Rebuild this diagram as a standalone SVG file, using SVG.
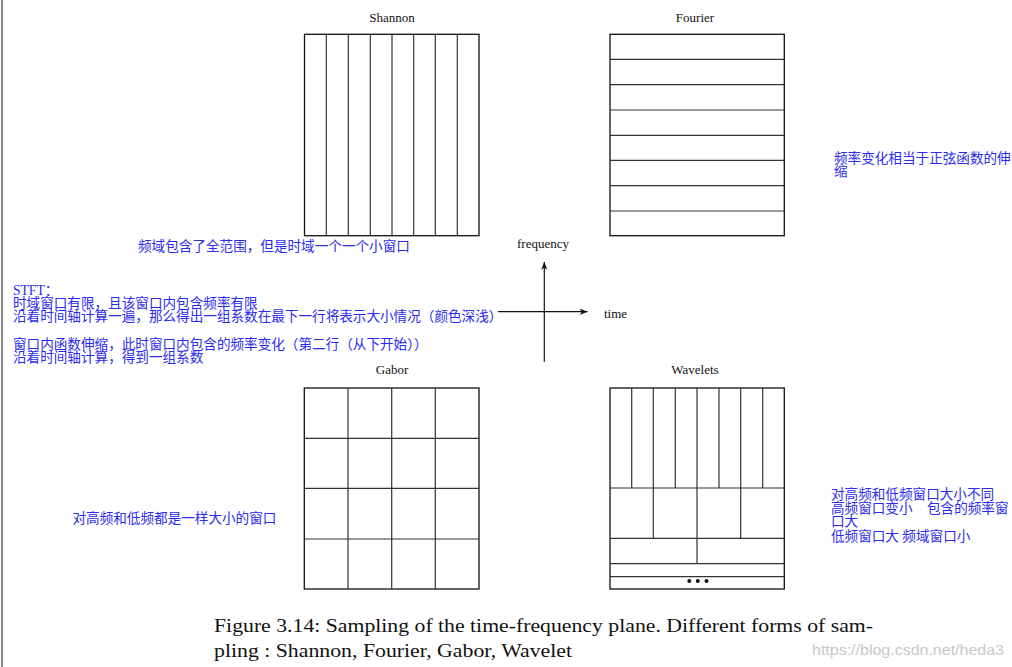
<svg xmlns="http://www.w3.org/2000/svg" width="1012" height="667" viewBox="0 0 1012 667">
<style>
.box{fill:none;stroke:#111;stroke-width:1.3}
.ln{stroke:#333;stroke-width:1.2}
.title{font-family:"Liberation Serif",serif;font-size:13px;fill:#111;text-anchor:middle}
.lab{font-family:"Liberation Serif",serif;font-size:13px;fill:#111}
.note{font-family:"Liberation Serif","Noto Sans CJK SC",serif;font-size:13.6px;fill:#2b2bef}
.cap{font-family:"Liberation Serif",serif;font-size:19px;fill:#111}
.wm{font-family:"Liberation Sans",sans-serif;font-size:14px;fill:#c8c8c8}
</style>
<defs>
<marker id="ah" viewBox="0 0 10 10" refX="10" refY="5" markerWidth="8" markerHeight="8" markerUnits="userSpaceOnUse" orient="auto">
<path d="M0,1 L10,5 L0,9 L3,5 Z" fill="#111"/>
</marker>
</defs>
<rect width="1012" height="667" fill="#fff"/>
<line x1="2" y1="0" x2="2" y2="667" stroke="#888" stroke-width="2"/>

<g id="shannon">
<text class="title" x="392" y="22">Shannon</text>
<rect class="box" x="304.5" y="34.3" width="174.5" height="201.4"/>
<path class="ln" d="M326.3,34.3V235.7M348.3,34.3V235.7M370.3,34.3V235.7M392,34.3V235.7M413.7,34.3V235.7M435.3,34.3V235.7M457.3,34.3V235.7"/>
</g>

<g id="fourier">
<text class="title" x="695" y="22">Fourier</text>
<rect class="box" x="610" y="34.3" width="174.3" height="201.4"/>
<path class="ln" d="M610,59.3H784.3M610,84.7H784.3M610,110H784.3M610,135.3H784.3M610,160.3H784.3M610,185.7H784.3M610,211H784.3"/>
</g>

<g id="gabor">
<text class="title" x="392" y="374">Gabor</text>
<rect class="box" x="304.3" y="388" width="174.7" height="201"/>
<path class="ln" d="M348,388V589M391.7,388V589M435.3,388V589M304.3,438.3H479M304.3,488.3H479M304.3,539H479"/>
</g>

<g id="wavelets">
<text class="title" x="695" y="374">Wavelets</text>
<rect class="box" x="610" y="388" width="174.3" height="201"/>
<path class="ln" d="M631.7,388V488M653.3,388V488M675.3,388V488M697,388V488M719,388V488M740.7,388V488M762.7,388V488M610,488H784.3M653.3,488V538.3M697,488V538.3M740.7,488V538.3M610,538.3H784.3M697,538.3V563.7M610,563.7H784.3M610,576.7H784.3"/>
<circle cx="689.3" cy="581" r="2" fill="#111"/>
<circle cx="697.8" cy="581" r="2" fill="#111"/>
<circle cx="706.5" cy="581" r="2" fill="#111"/>
</g>

<g id="axes">
<line x1="544.3" y1="361.7" x2="544.3" y2="262" stroke="#111" stroke-width="1.2" marker-end="url(#ah)"/>
<line x1="498" y1="311.7" x2="587.5" y2="311.7" stroke="#111" stroke-width="1.2" marker-end="url(#ah)"/>
<text class="lab" x="517" y="248">frequency</text>
<text class="lab" x="604" y="318">time</text>
</g>

<g id="notes">
<text class="note" x="138" y="251">频域包含了全范围，但是时域一个一个小窗口</text>
<text class="note" x="13" y="295">STFT：</text>
<text class="note" x="13" y="308">时域窗口有限，且该窗口内包含频率有限</text>
<text class="note" x="13" y="321">沿着时间轴计算一遍，那么得出一组系数在最下一行将表示大小情况（颜色深浅）</text>
<text class="note" x="13" y="349">窗口内函数伸缩，此时窗口内包含的频率变化（第二行（从下开始））</text>
<text class="note" x="13" y="362">沿着时间轴计算，得到一组系数</text>
<text class="note" x="834" y="163">频率变化相当于正弦函数的伸</text>
<text class="note" x="834" y="176">缩</text>
<text class="note" x="72.5" y="523">对高频和低频都是一样大小的窗口</text>
<text class="note" x="831" y="499">对高频和低频窗口大小不同</text>
<text class="note" x="831" y="513">高频窗口变小<tspan x="927">包含的频率窗</tspan></text>
<text class="note" x="831" y="526">口大</text>
<text class="note" x="831" y="541">低频窗口大 频域窗口小</text>
</g>

<g id="caption">
<text class="cap" x="214" y="632" textLength="659" lengthAdjust="spacingAndGlyphs">Figure 3.14: Sampling of the time-frequency plane. Different forms of sam-</text>
<text class="cap" x="214" y="657" textLength="358" lengthAdjust="spacingAndGlyphs">pling : Shannon, Fourier, Gabor, Wavelet</text>
<text class="wm" x="812" y="655" textLength="192" lengthAdjust="spacingAndGlyphs">https://blog.csdn.net/heda3</text>
</g>
</svg>
